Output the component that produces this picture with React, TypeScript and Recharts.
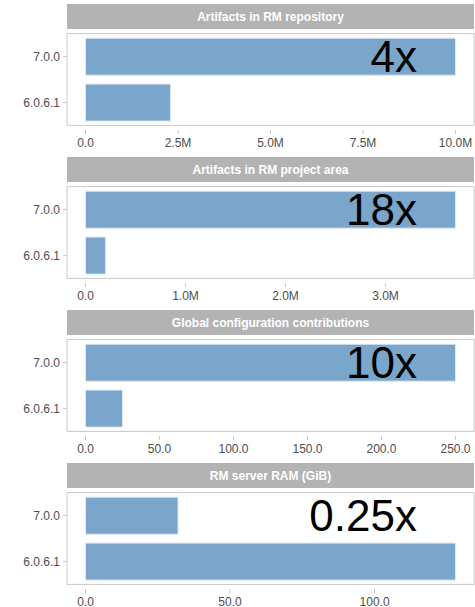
import React from 'react';
import {
  BarChart, Bar, XAxis, YAxis, ReferenceArea, ReferenceLine,
} from 'recharts';

const versions = ['7.0.0', '6.0.6.1'];

const panelTitles = [
  'Artifacts in RM repository',
  'Artifacts in RM project area',
  'Global configuration contributions',
  'RM server RAM (GiB)',
];

// values per version (7.0.0, 6.0.6.1)
const repoArtifacts = [10000000, 2300000];
const projectArtifacts = [3700000, 200000];
const gcContributions = [250, 25];
const serverRam = [32, 128];

const ratioLabels = ['4x', '18x', '10x', '0.25x'];

const repoTicks = [0, 2500000, 5000000, 7500000, 10000000];
const projectTicks = [0, 1000000, 2000000, 3000000];
const gcTicks = [0, 50, 100, 150, 200, 250];
const ramTicks = [0, 50, 100];

const FONT = '"Liberation Sans", Arial, Helvetica, sans-serif';
const W = 475;
const PANEL_H = 153;
const STRIP_H = 25;
const YAXIS_W = 67;
const XAXIS_H = 27;
const BAR_FILL = '#7ba6cb';
const GRID = '#c9c9c9';
const TEXT = '#4d4d4d';

const fmtMillions = (v: number) => (v === 0 ? '0.0' : `${(v / 1e6).toFixed(1)}M`);
const fmtPlain = (v: number) => v.toFixed(1);

interface PanelProps {
  title: string;
  values: number[];
  ticks: number[];
  ratio: string;
  format: (v: number) => string;
}

function Panel({ title, values, ticks, ratio, format }: PanelProps) {
  const data = versions.map((version, i) => ({ version, value: values[i] }));
  const max = Math.max(...values);
  const lo = -0.05 * max;
  const hi = 1.05 * max;

  return (
    <div style={{ position: 'relative', width: W, height: PANEL_H }}>
      <div
        style={{
          position: 'absolute', left: YAXIS_W, top: 0, width: W - YAXIS_W - 1, height: STRIP_H,
          background: '#b3b3b3', color: '#fff', fontFamily: FONT, fontWeight: 'bold', fontSize: 12,
          display: 'flex', alignItems: 'center', justifyContent: 'center', boxSizing: 'border-box',
        }}
      >
        {title}
      </div>
      <BarChart
        width={W}
        height={PANEL_H}
        data={data}
        layout="vertical"
        margin={{ top: STRIP_H, right: 1, bottom: 0, left: 0 }}
        barCategoryGap="10%"
      >
        <XAxis
          type="number"
          domain={[lo, hi]}
          ticks={ticks}
          interval={0}
          allowDataOverflow
          height={XAXIS_H}
          axisLine={false}
          tickSize={4}
          tickMargin={4}
          tickLine={{ stroke: GRID }}
          tickFormatter={format}
          tick={{ fontSize: 12, fill: TEXT, fontFamily: FONT }}
        />
        <YAxis
          type="category"
          dataKey="version"
          width={YAXIS_W}
          padding={{ top: 4.6, bottom: 4.6 }}
          axisLine={false}
          tickSize={4}
          tickMargin={3}
          tickLine={{ stroke: GRID }}
          tick={{ fontSize: 12, fill: TEXT, fontFamily: FONT }}
        />
        <ReferenceArea x1={lo} x2={hi} fill="none" stroke={GRID} strokeWidth={1} fillOpacity={0} />
        <Bar
          dataKey="value"
          fill={BAR_FILL}
          stroke="#dfe8f1"
          strokeWidth={1}
          isAnimationActive={false}
        />
        <ReferenceLine
          y={versions[0]}
          stroke="none"
          label={{ value: ratio, position: 'insideRight', offset: 57, fontSize: 44, fill: '#000', fontFamily: FONT }}
        />
      </BarChart>
    </div>
  );
}

export default function App() {
  return (
    <div style={{ position: 'absolute', left: 0, top: 4, width: W, height: 603, overflow: 'hidden', background: '#fff' }}>
      <Panel title={panelTitles[0]} values={repoArtifacts} ticks={repoTicks} ratio={ratioLabels[0]} format={fmtMillions} />
      <Panel title={panelTitles[1]} values={projectArtifacts} ticks={projectTicks} ratio={ratioLabels[1]} format={fmtMillions} />
      <Panel title={panelTitles[2]} values={gcContributions} ticks={gcTicks} ratio={ratioLabels[2]} format={fmtPlain} />
      <Panel title={panelTitles[3]} values={serverRam} ticks={ramTicks} ratio={ratioLabels[3]} format={fmtPlain} />
    </div>
  );
}
